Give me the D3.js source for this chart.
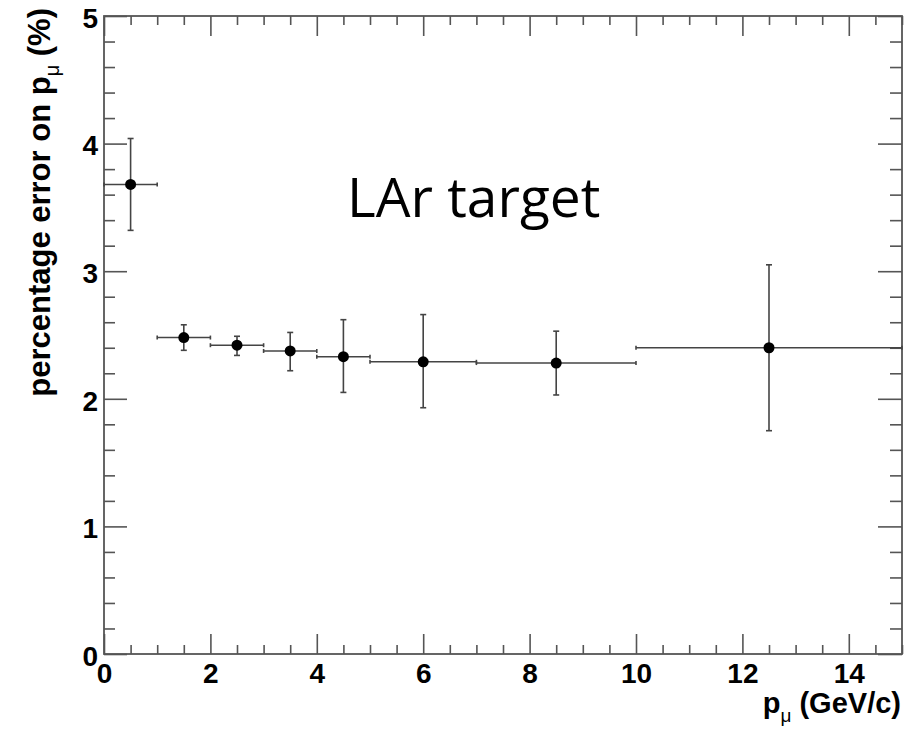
<!DOCTYPE html>
<html>
<head>
<meta charset="utf-8">
<script src="https://cdn.jsdelivr.net/npm/d3@7"></script>
<style>
  body { margin: 0; background: #fff; }
</style>
</head>
<body>
<script>
// bins in p_mu (GeV/c) and percentage error values
var binLo = [0, 1, 2, 3, 4, 5, 7, 10];
var binHi = [1, 2, 3, 4, 5, 7, 10, 15];
var pCenter = [0.5, 1.5, 2.5, 3.5, 4.5, 6, 8.5, 12.5];
var errPct = [3.68, 2.48, 2.42, 2.375, 2.33, 2.29, 2.28, 2.40];
var errLow = [3.32, 2.38, 2.34, 2.22, 2.05, 1.93, 2.03, 1.75];
var errHigh = [4.04, 2.58, 2.49, 2.52, 2.62, 2.66, 2.53, 3.05];
var xTicks = [0, 2, 4, 6, 8, 10, 12, 14];
var yTicks = [0, 1, 2, 3, 4, 5];

var svg = d3.select("body")
    .append("svg")
    .attr("width", 906)
    .attr("height", 733)
    .style("display", "block");

var margin = {top: 16, right: 4, bottom: 79, left: 104};
var width = 906 - margin.left - margin.right;
var height = 733 - margin.top - margin.bottom;
var g = svg.append("g").attr("transform", "translate(" + margin.left + "," + margin.top + ")");

var x = d3.scaleLinear().domain([0, 15]).range([0, width]);
var y = d3.scaleLinear().domain([0, 5]).range([height, 0]);

var axisColor = "#555";
var font = "'Liberation Sans', Arial, Helvetica, sans-serif";

var xMinor = d3.range(0, 15.01, 0.5).filter(function(d) { return d % 2 !== 0; });
var yMinor = d3.range(0, 5.01, 0.2).filter(function(d) { return Math.abs(d - Math.round(d)) > 0.01; });

function styleAxis(sel) {
    sel.select(".domain").remove();
    sel.selectAll(".tick line").attr("stroke", axisColor).attr("stroke-width", 1.6);
}

// bottom axis
g.append("g")
    .attr("transform", "translate(0," + height + ")")
    .call(d3.axisBottom(x).tickValues(xTicks).tickSize(-20).tickPadding(9).tickFormat(d3.format("d")))
    .call(styleAxis)
    .selectAll("text")
    .style("font-family", font)
    .style("font-weight", "bold")
    .style("font-size", "28px")
    .attr("fill", "#000");

g.append("g")
    .attr("transform", "translate(0," + height + ")")
    .call(d3.axisBottom(x).tickValues(xMinor).tickSize(-9).tickFormat(""))
    .call(styleAxis);

// top axis
g.append("g")
    .call(d3.axisTop(x).tickValues(xTicks).tickSize(-20).tickFormat(""))
    .call(styleAxis);
g.append("g")
    .call(d3.axisTop(x).tickValues(xMinor).tickSize(-9).tickFormat(""))
    .call(styleAxis);

// left axis
g.append("g")
    .call(d3.axisLeft(y).tickValues(yTicks).tickSize(-23).tickPadding(6).tickFormat(d3.format("d")))
    .call(styleAxis)
    .selectAll("text")
    .style("font-family", font)
    .style("font-weight", "bold")
    .style("font-size", "28px")
    .attr("fill", "#000")
    .attr("dy", "0.4em");

g.append("g")
    .call(d3.axisLeft(y).tickValues(yMinor).tickSize(-11).tickFormat(""))
    .call(styleAxis);

// right axis
g.append("g")
    .attr("transform", "translate(" + width + ",0)")
    .call(d3.axisRight(y).tickValues(yTicks).tickSize(-24).tickFormat(""))
    .call(styleAxis);
g.append("g")
    .attr("transform", "translate(" + width + ",0)")
    .call(d3.axisRight(y).tickValues(yMinor).tickSize(-12).tickFormat(""))
    .call(styleAxis);

// frame
g.append("rect")
    .attr("width", width)
    .attr("height", height)
    .attr("fill", "none")
    .attr("stroke", axisColor)
    .attr("stroke-width", 1.8);

// data
var idx = d3.range(errPct.length);
var barColor = "#444";
var pts = g.append("g");

pts.selectAll(".hbar")
    .data(idx)
    .enter()
    .append("line")
    .attr("x1", function(i) { return x(binLo[i]); })
    .attr("x2", function(i) { return x(binHi[i]); })
    .attr("y1", function(i) { return y(errPct[i]); })
    .attr("y2", function(i) { return y(errPct[i]); })
    .attr("stroke", barColor)
    .attr("stroke-width", 1.6);

// small end caps on horizontal bars
[binLo, binHi].forEach(function(arr) {
    pts.selectAll(null)
        .data(idx)
        .enter()
        .append("line")
        .attr("x1", function(i) { return x(arr[i]); })
        .attr("x2", function(i) { return x(arr[i]); })
        .attr("y1", function(i) { return y(errPct[i]) - 2; })
        .attr("y2", function(i) { return y(errPct[i]) + 2; })
        .attr("stroke", barColor)
        .attr("stroke-width", 1.6);
});

pts.selectAll(".vbar")
    .data(idx)
    .enter()
    .append("line")
    .attr("x1", function(i) { return x(pCenter[i]); })
    .attr("x2", function(i) { return x(pCenter[i]); })
    .attr("y1", function(i) { return y(errLow[i]); })
    .attr("y2", function(i) { return y(errHigh[i]); })
    .attr("stroke", barColor)
    .attr("stroke-width", 1.6);

[errLow, errHigh].forEach(function(arr) {
    pts.selectAll(null)
        .data(idx)
        .enter()
        .append("line")
        .attr("x1", function(i) { return x(pCenter[i]) - 3; })
        .attr("x2", function(i) { return x(pCenter[i]) + 3; })
        .attr("y1", function(i) { return y(arr[i]); })
        .attr("y2", function(i) { return y(arr[i]); })
        .attr("stroke", barColor)
        .attr("stroke-width", 1.6);
});

pts.selectAll("circle")
    .data(idx)
    .enter()
    .append("circle")
    .attr("cx", function(i) { return x(pCenter[i]); })
    .attr("cy", function(i) { return y(errPct[i]); })
    .attr("r", 5.5)
    .attr("fill", "#000");

// axis titles
var xt = svg.append("text")
    .attr("x", 901)
    .attr("y", 713)
    .attr("text-anchor", "end")
    .style("font-family", font)
    .style("font-weight", "bold")
    .style("font-size", "29px");
xt.append("tspan").text("p");
xt.append("tspan").attr("dy", 9).style("font-size", "19px").style("font-weight", "normal").text("\u03bc");
xt.append("tspan").attr("dy", -9).text(" (GeV/c)");

var yt = svg.append("text")
    .attr("transform", "translate(50,8) rotate(-90)")
    .attr("text-anchor", "end")
    .style("font-family", font)
    .style("font-weight", "bold")
    .style("font-size", "31px");
yt.append("tspan").text("percentage error on p");
yt.append("tspan").attr("dy", 9).style("font-size", "20px").style("font-weight", "normal").text("\u03bc");
yt.append("tspan").attr("dy", -9).text(" (%)");

// annotation
svg.append("text")
    .attr("x", 347)
    .attr("y", 217)
    .style("font-family", "'Open Sans', sans-serif")
    .style("font-size", "55px")
    .text("LAr target");
</script>
</body>
</html>
